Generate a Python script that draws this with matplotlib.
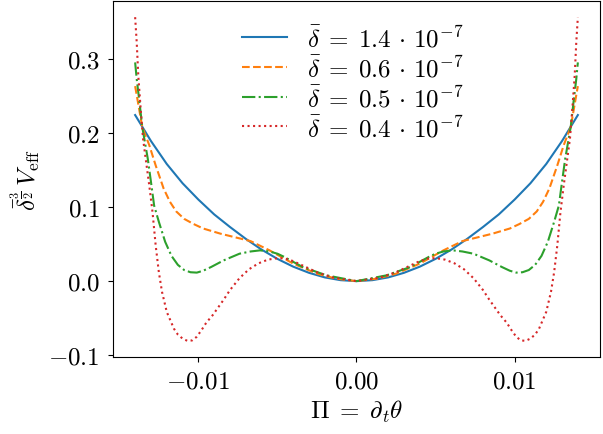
import matplotlib
matplotlib.use("Agg")
import matplotlib.pyplot as plt

plt.rcParams['font.family'] = 'serif'
plt.rcParams['font.serif'] = ['cmr10', 'DejaVu Serif']
plt.rcParams['mathtext.fontset'] = 'cm'
plt.rcParams['axes.formatter.use_mathtext'] = True
plt.rcParams['font.size'] = 18
plt.rcParams['xtick.major.pad'] = 6
plt.rcParams['ytick.major.pad'] = 6

# values
x_14 = [-0.014, -0.013, -0.012, -0.011, -0.010, -0.009, -0.008, -0.007, -0.006,
        -0.005, -0.004, -0.003, -0.002, -0.001, 0.0, 0.001, 0.002, 0.003, 0.004,
        0.005, 0.006, 0.007, 0.008, 0.009, 0.010, 0.011, 0.012, 0.013, 0.014]
v_14 = [0.224, 0.189, 0.158, 0.132, 0.110, 0.090, 0.073, 0.057, 0.0425,
        0.030, 0.0195, 0.0112, 0.005, 0.0013, 0.0, 0.0013, 0.005, 0.0112, 0.0195,
        0.030, 0.0425, 0.057, 0.073, 0.090, 0.110, 0.132, 0.158, 0.189, 0.224]

x_06 = [-0.0140, -0.01386, -0.01355, -0.0131, -0.0127, -0.0122, -0.0118, -0.0114,
        -0.0109, -0.0103, -0.0097, -0.0086, -0.0067, -0.0055, -0.0040, -0.0025,
        -0.0013, 0.0,
        0.0013, 0.0025, 0.0040, 0.0055, 0.0067, 0.0086, 0.0097, 0.0103, 0.0109,
        0.0114, 0.0118, 0.0122, 0.0127, 0.0131, 0.01355, 0.01386, 0.0140]
v_06 = [0.263, 0.246, 0.208, 0.183, 0.156, 0.125, 0.107, 0.094,
        0.084, 0.077, 0.071, 0.064, 0.054, 0.0415, 0.0236, 0.0101,
        0.0034, 0.0,
        0.0034, 0.0101, 0.0236, 0.0415, 0.054, 0.064, 0.071, 0.077, 0.084,
        0.094, 0.107, 0.125, 0.156, 0.183, 0.208, 0.246, 0.263]

x_05 = [-0.0140, -0.0139, -0.01375, -0.01355, -0.0132, -0.0130, -0.0128, -0.0125,
        -0.0121, -0.0117, -0.0113, -0.0109, -0.0105, -0.0101, -0.0097, -0.0092,
        -0.0084, -0.0074, -0.0067, -0.0061, -0.0055, -0.0050, -0.0046, -0.0034,
        -0.0019, 0.0,
        0.0019, 0.0034, 0.0046, 0.0050, 0.0055, 0.0061, 0.0067, 0.0074, 0.0084,
        0.0092, 0.0097, 0.0101, 0.0105, 0.0109, 0.0113, 0.0117, 0.0121, 0.0125,
        0.0128, 0.0130, 0.0132, 0.01355, 0.01375, 0.0139, 0.0140]
v_05 = [0.295, 0.2725, 0.246, 0.208, 0.165, 0.134, 0.102, 0.080,
        0.053, 0.034, 0.022, 0.015, 0.012, 0.0115, 0.014, 0.019,
        0.028, 0.037, 0.040, 0.0415, 0.040, 0.037, 0.033, 0.019,
        0.0078, 0.0,
        0.0078, 0.019, 0.033, 0.037, 0.040, 0.0415, 0.040, 0.037, 0.028,
        0.019, 0.014, 0.0115, 0.012, 0.015, 0.022, 0.034, 0.053, 0.080,
        0.102, 0.134, 0.165, 0.208, 0.246, 0.2725, 0.295]

x_04 = [-0.0140, -0.0139, -0.0138, -0.01365, -0.0135, -0.0133, -0.0131, -0.0129,
        -0.0127, -0.0125, -0.0123, -0.0120, -0.01155, -0.0113, -0.0110, -0.0107,
        -0.0104, -0.0101, -0.0098, -0.0095, -0.0091, -0.0088, -0.0084, -0.0080,
        -0.0074, -0.0068, -0.0062, -0.0056, -0.0050, -0.0045, -0.0040, -0.0034,
        -0.0025, -0.0015, 0.0,
        0.0015, 0.0025, 0.0034, 0.0040, 0.0045, 0.0050, 0.0056, 0.0062, 0.0068,
        0.0074, 0.0080, 0.0084, 0.0088, 0.0091, 0.0095, 0.0098, 0.0101, 0.0104,
        0.0107, 0.0110, 0.0113, 0.01155, 0.0120, 0.0123, 0.0125, 0.0127, 0.0129,
        0.0131, 0.0133, 0.0135, 0.01365, 0.0138, 0.0139, 0.0140]
v_04 = [0.356, 0.322, 0.277, 0.232, 0.192, 0.160, 0.128, 0.093,
        0.048, 0.012, -0.0145, -0.0415, -0.064, -0.072, -0.0775, -0.0805,
        -0.080, -0.075, -0.066, -0.056, -0.046, -0.037, -0.025, -0.012,
        0.004, 0.016, 0.024, 0.029, 0.031, 0.0305, 0.027, 0.021,
        0.012, 0.005, 0.0,
        0.005, 0.012, 0.021, 0.027, 0.0305, 0.031, 0.029, 0.024, 0.016,
        0.004, -0.012, -0.025, -0.037, -0.046, -0.056, -0.066, -0.075, -0.080,
        -0.0805, -0.0775, -0.072, -0.064, -0.0415, -0.0145, 0.012, 0.048, 0.093,
        0.128, 0.160, 0.192, 0.232, 0.277, 0.322, 0.356]

labels = [r'$\bar{\delta}\;=\;1.4\,\cdot\,10^{-7}$',
          r'$\bar{\delta}\;=\;0.6\,\cdot\,10^{-7}$',
          r'$\bar{\delta}\;=\;0.5\,\cdot\,10^{-7}$',
          r'$\bar{\delta}\;=\;0.4\,\cdot\,10^{-7}$']

fig = plt.figure(figsize=(6.03, 4.35), dpi=100)
ax = fig.add_axes([0.1874, 0.177, 0.8076, 0.8184])

ax.plot(x_14, v_14, '-', color='C0', label=labels[0])
ax.plot(x_06, v_06, '--', color='C1', label=labels[1])
ax.plot(x_05, v_05, '-.', color='C2', label=labels[2])
ax.plot(x_04, v_04, ':', color='C3', label=labels[3])

ax.set_xticks([-0.01, 0.0, 0.01])
ax.set_yticks([-0.1, 0.0, 0.1, 0.2, 0.3])
ax.set_xlabel(r'$\Pi\;=\;\partial_t \theta$')
ax.set_ylabel(r'$\bar{\delta}^{\frac{3}{2}}\, V_{\rm eff}$')
ax.legend(loc='upper left', bbox_to_anchor=(0.235, 0.975), frameon=False,
          handlelength=1.8, labelspacing=0.15, borderaxespad=0.2)

fig.savefig('out.png', dpi=100)
